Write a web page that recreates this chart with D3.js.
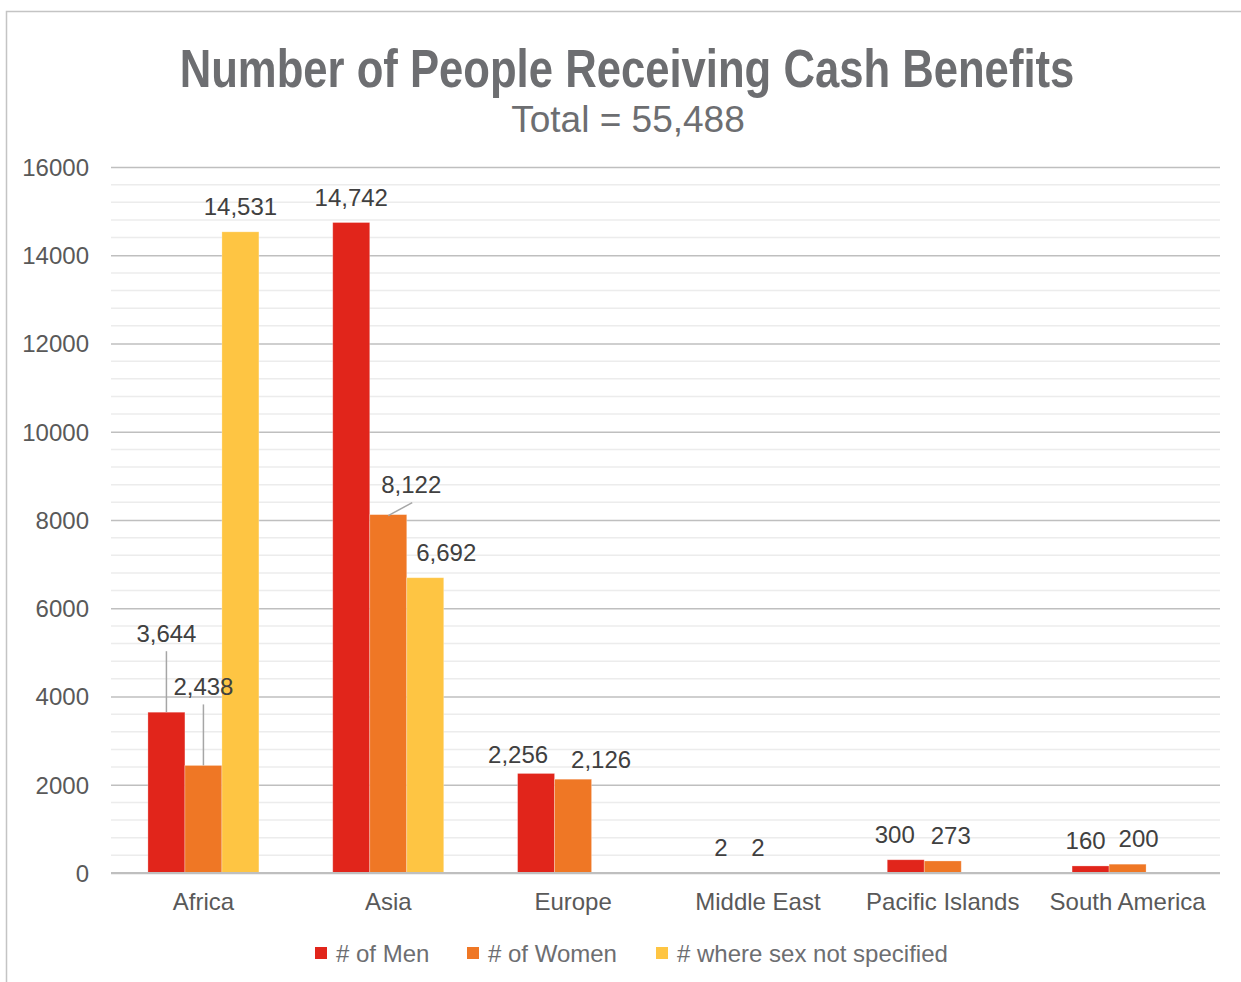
<!DOCTYPE html>
<html><head><meta charset="utf-8">
<script src="https://cdn.jsdelivr.net/npm/d3@7/dist/d3.min.js"></script>
<style>
html,body{margin:0;padding:0;background:#fff;}
svg{display:block;font-family:"Liberation Sans",Arial,sans-serif;}
</style></head>
<body>
<svg id="chart" width="1241" height="982"></svg>
<script>
// ---- data ----
const categories = ["Africa","Asia","Europe","Middle East","Pacific Islands","South America"];
const seriesNames = ["# of Men","# of Women","# where sex not specified"];
const men = [3644, 14742, 2256, 2, 300, 160];
const women = [2438, 8122, 2126, 2, 273, 200];
const unspecified = [14531, 6692, null, null, null, null];
const yTicks = [0, 2000, 4000, 6000, 8000, 10000, 12000, 14000, 16000];
const titleText = "Number of People Receiving Cash Benefits";
const subtitleText = "Total = 55,488";

// ---- style / layout ----
const colors = ["#e1251b", "#ef7725", "#fec543"];
const seriesData = [men, women, unspecified];
// label nudges (dx, dy in px, and optional leader line) keyed "catIndex-seriesIndex"
const labelNudge = {
  "0-0": {dx: 0, dy: -53, leader: true},
  "0-1": {dx: 0, dy: -53, leader: true},
  "1-1": {dx: 23, dy: -5, leaderDiag: true},
  "1-2": {dx: 21, dy: 0},
  "2-0": {dx: -18, dy: 7},
  "2-1": {dx: 28, dy: 6},
  "4-0": {dx: -11, dy: 0},
  "4-1": {dx: 8, dy: 0},
  "5-0": {dx: -5, dy: 0},
  "5-1": {dx: 11, dy: 0}
};

const svg = d3.select("#chart");
const W = 1241, H = 982;
const plot = {left: 111, right: 1220, top: 167, bottom: 873};
const FS = 24;

// outer border
svg.append("rect").attr("x", 6.5).attr("y", 11.5).attr("width", W + 10).attr("height", H + 10)
  .attr("fill", "none").attr("stroke", "#c4c4c4").attr("stroke-width", 1.5);

const x = d3.scaleBand().domain(categories).range([plot.left, plot.right]).paddingInner(0).paddingOuter(0);
const barW = 37;
const xs = d3.scaleBand().domain(d3.range(3)).range([0, barW * 3]);
const y = d3.scaleLinear().domain([0, 16000]).range([plot.bottom, plot.top]);

// minor grid
const minor = d3.range(0, 16001, 400).filter(v => v % 2000 !== 0);
svg.append("g").selectAll("line").data(minor).join("line")
  .attr("x1", plot.left).attr("x2", plot.right)
  .attr("y1", d => y(d)).attr("y2", d => y(d))
  .attr("stroke", "#ececec").attr("stroke-width", 1.5);

// major grid + y axis labels via axis
const yAxis = d3.axisLeft(y).tickValues(yTicks).tickSize(-(plot.right - plot.left)).tickPadding(22).tickFormat(d3.format("d"));
const ga = svg.append("g").attr("transform", `translate(${plot.left},0)`).call(yAxis);
ga.select(".domain").remove();
ga.selectAll(".tick line").attr("stroke", "#bfbfbf").attr("stroke-width", 1.5);
ga.selectAll(".tick text").attr("fill", "#595959").attr("font-size", FS)
  .attr("font-family", "Liberation Sans, Arial, sans-serif").attr("dy", "0.35em");

// bars
const bars = [];
categories.forEach((c, ci) => {
  seriesData.forEach((arr, si) => {
    const v = arr[ci];
    if (v === null || v === undefined) return;
    bars.push({c, ci, si, v});
  });
});
const gb = svg.append("g");
const bx = d => x(d.c) + x.bandwidth() / 2 - barW * 1.5 + xs(d.si);
gb.selectAll("rect").data(bars).join("rect")
  .attr("x", bx)
  .attr("width", xs.bandwidth())
  .attr("y", d => y(d.v))
  .attr("height", d => y(0) - y(d.v))
  .attr("fill", d => colors[d.si])
  .attr("stroke", "#ffffff").attr("stroke-opacity", 0.35).attr("stroke-width", 0.8);

// baseline
svg.append("line").attr("x1", plot.left).attr("x2", plot.right)
  .attr("y1", y(0)).attr("y2", y(0)).attr("stroke", "#bfbfbf").attr("stroke-width", 2);

// data labels
const fmt = d3.format(",");
const gl = svg.append("g");
bars.forEach(d => {
  const n = labelNudge[d.ci + "-" + d.si] || {dx: 0, dy: 0};
  const cx = bx(d) + barW / 2;
  const top = y(d.v);
  const lx = cx + n.dx;
  const ly = top - 17 + n.dy;
  gl.append("text").attr("x", lx).attr("y", ly).attr("text-anchor", "middle")
    .attr("font-size", FS).attr("fill", "#404040").text(fmt(d.v));
  if (n.leader) {
    gl.append("line").attr("x1", cx).attr("x2", cx).attr("y1", ly + 9).attr("y2", top)
      .attr("stroke", "#a6a6a6").attr("stroke-width", 1.5);
  }
  if (n.leaderDiag) {
    gl.append("line").attr("x1", lx + 1).attr("y1", ly + 10).attr("x2", cx).attr("y2", top + 1)
      .attr("stroke", "#a6a6a6").attr("stroke-width", 1.5);
  }
});

// category labels
const xAxis = d3.axisBottom(x).tickSize(0).tickPadding(0);
const gx = svg.append("g").attr("transform", `translate(0,${plot.bottom})`).call(xAxis);
gx.select(".domain").remove();
gx.selectAll(".tick text").attr("fill", "#595959").attr("font-size", FS)
  .attr("font-family", "Liberation Sans, Arial, sans-serif").attr("y", 37).attr("dy", 0);

// title: fit to target width by horizontal scaling of the group
const titleG = svg.append("g");
const titleT = titleG.append("text").attr("x", 0).attr("y", 0).attr("text-anchor", "middle")
  .attr("font-family", "Liberation Sans Narrow, Arial Narrow, Liberation Sans, sans-serif")
  .attr("font-weight", "bold").attr("font-size", 53).attr("fill", "#6d6e71").text(titleText);
const natW = titleT.node().getComputedTextLength() || 895;
const sx = 895 / natW;
titleG.attr("transform", `translate(627,87) scale(${sx},1)`);

svg.append("text").attr("x", 628).attr("y", 132).attr("text-anchor", "middle")
  .attr("font-size", 37).attr("fill", "#6d6e71").text(subtitleText);

// legend
const legendX = [315, 467, 656];
const gleg = svg.append("g");
seriesNames.forEach((s, i) => {
  gleg.append("rect").attr("x", legendX[i]).attr("y", 947).attr("width", 12).attr("height", 12).attr("fill", colors[i]);
  gleg.append("text").attr("x", legendX[i] + 21).attr("y", 962).attr("font-size", FS).attr("fill", "#6d6e71").text(s);
});
</script>
</body></html>
